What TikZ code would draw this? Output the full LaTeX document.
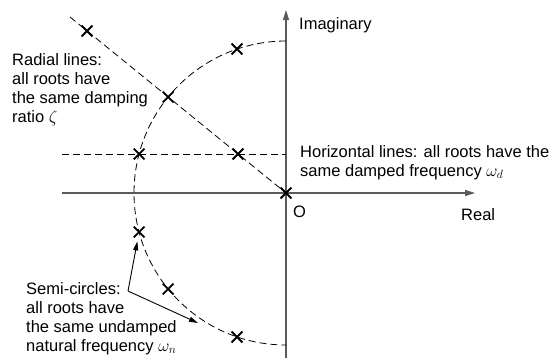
\documentclass[tikz,border=0pt]{standalone}
\usepackage{fontspec}
\setmainfont{Liberation Sans}
\usetikzlibrary{arrows.meta,shapes.misc}
\definecolor{axisgray}{RGB}{90,90,90}
\begin{document}
\begin{tikzpicture}[x=1bp,y=1bp,
  axis/.style={draw=axisgray,line width=1.3bp,-{Triangle[length=10bp,width=6bp]}},
  dline/.style={draw=black,line width=0.8bp,dash pattern=on 7bp off 4bp},
  root/.style={cross out,draw=black,line width=1.8bp,minimum size=9bp,inner sep=0pt},
  lbl/.style={font=\fontsize{16.5bp}{18.9bp}\selectfont,inner sep=0pt,align=left,anchor=base west,text=black},
  pointer/.style={draw=black,line width=0.9bp,-{Triangle[length=9bp,width=5bp]}}
]
\useasboundingbox (0,0) rectangle (553,358);
% axes
\coordinate (rl) at (62,165);
\coordinate (rr) at (475,165);
\coordinate (ib) at (286,0);
\coordinate (it) at (286,348);
\draw[axis] (rl) -- (rr);
\draw[axis] (ib) -- (it);
% roots
\node[root] (o) at (286,165) {};
\node[root] (p1) at (87,327) {};
\node[root] (p2) at (168.2,261) {};
\node[root] (p3) at (238,204) {};
\node[root] (p4) at (139.1,204) {};
\node[root] (p5) at (237,309) {};
\node[root] (p6) at (139.1,126) {};
\node[root] (p7) at (168.2,69) {};
\node[root] (p8) at (237,21) {};
% dashed lines
\coordinate (r0) at (70,341);
\coordinate (h0) at (62,204);
\coordinate (h1) at (286,204);
\draw[dline] (r0) -- (o.center);
\draw[dline] (h0) -- (h1);
\draw[dline] (o.center) ++(90:152) arc[start angle=90,end angle=270,radius=152];
% labels (base = baseline of last line)
\node[lbl] (lim) at (299,329) {Imaginary};
\node[lbl] (lre) at (461,138) {Real};
\node[lbl] (lo) at (293,141) {O};
\node[lbl] (lrad) at (12,236) {Radial lines:\\all roots have\\the same damping\\ratio $\zeta$};
\node[lbl] (lhor) at (300,182) {Horizontal lines: all roots have the\\same damped frequency $\omega_d$};
\node[lbl] (lsem) at (26,7) {Semi-circles:\\all roots have\\the same undamped\\natural frequency $\omega_n$};
% pointers
\coordinate (a0) at (128,67);
\coordinate (a2) at (198,35);
\draw[pointer,shorten >=4bp] (a0) -- (p6);
\draw[pointer] (a0) -- (a2);
\end{tikzpicture}
\end{document}
